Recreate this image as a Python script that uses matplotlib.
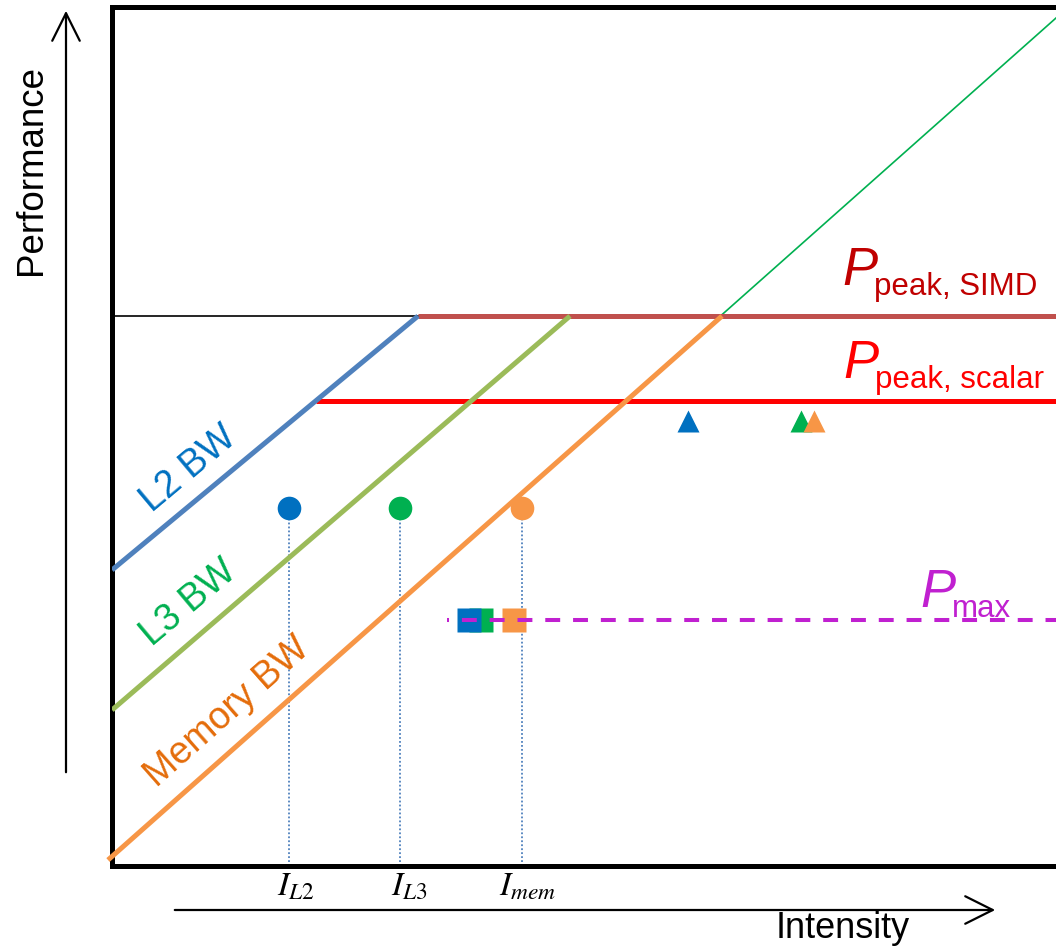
import matplotlib
matplotlib.use("Agg")
import matplotlib.pyplot as plt
from matplotlib.patches import FancyArrowPatch

plt.rcParams['font.family'] = ['Liberation Sans', 'DejaVu Sans']

# roofline model (arbitrary units)
p_simd = 5.50
p_scalar = 4.65
p_max = 2.46

l2_x = [0.0, 3.06]
l2_y = [2.96, 5.50]
l3_x = [0.0, 4.58]
l3_y = [1.56, 5.50]
mem_x = [-0.04, 6.10]
mem_y = [0.06, 5.50]
mem_ext_x = [-0.04, 9.44]
mem_ext_y = [0.06, 8.48]

# intensity markers (circles) and their ticks
i_x = [1.77, 2.88, 4.10]
i_y = [3.58, 3.58, 3.58]
i_labels = ['$I_{L2}$', '$I_{L3}$', '$I_{mem}$']
i_label_x = [1.84, 2.97, 4.16]

# measured performance (triangles) and squares at P_max
tri_x = [5.76, 6.89, 7.02]
tri_y = [4.45, 4.45, 4.45]
sq_x = [3.69, 3.57, 4.02]        # green, blue, orange
sq_y = [2.46, 2.46, 2.46]
pmax_x = [3.35, 9.44]

colors_dot = ['#0070C0', '#00B050', '#F79646']
sq_colors = ['#00B050', '#0070C0', '#F79646']

# roof labels: subscript, colour, x, baseline y
roof_sub = ['peak, SIMD', 'peak, scalar', 'max']
roof_col = ['#C00000', '#FF0000', '#C020D0']
roof_x = [7.30, 7.31, 8.08]
roof_y = [5.81, 4.88, 2.59]

fig = plt.figure(figsize=(10.56, 9.47), dpi=100)
ax = fig.add_axes([112/1056, (947-866)/947, (1056-112)/1056, (866-7.5)/947])
ax.set_xlim(0, 9.44)
ax.set_ylim(0, 8.585)
ax.set_xticks([]); ax.set_yticks([])
for s in ['left', 'top', 'bottom']:
    ax.spines[s].set_linewidth(3.6)
ax.spines['right'].set_visible(False)

# roofs
ax.plot([0, l2_x[1]], [p_simd, p_simd], color='black', lw=1.2, zorder=2)
ax.plot([l2_x[1], 9.44], [p_simd, p_simd], color='#C0504D', lw=3.6, zorder=3, solid_capstyle='butt')
ax.plot([2.04, 9.44], [p_scalar, p_scalar], color='#FF0000', lw=3.6, zorder=3, solid_capstyle='butt')

# bandwidth lines
ax.plot(mem_ext_x, mem_ext_y, color='#00B050', lw=1.2, zorder=2)
ax.plot(l2_x, l2_y, color='#4F81BD', lw=3.6, zorder=4, solid_capstyle='butt')
ax.plot(l3_x, l3_y, color='#9BBB59', lw=3.6, zorder=4, solid_capstyle='butt')
ax.plot(mem_x, mem_y, color='#F79646', lw=3.6, zorder=4, solid_capstyle='butt', clip_on=False)

# dotted drop lines and circles
for x, y, c in zip(i_x, i_y, colors_dot):
    ax.plot([x, x], [0.04, y], color='#4F81BD', lw=1.3, ls=(0, (1, 1.2)), zorder=3)
    ax.plot(x, y, 'o', color=c, ms=17, mec='none', zorder=6)

# triangles
for x, y, c in zip(tri_x, tri_y, colors_dot):
    ax.plot(x, y, '^', color=c, ms=16, mec='none', zorder=6)

# squares + P_max line
for x, y, c in zip(sq_x, sq_y, sq_colors):
    ax.plot(x, y, 's', color=c, ms=17, mec='none', zorder=6)
ax.plot(pmax_x, [p_max, p_max], color='#C020D0', lw=2.9,
        ls=(3.2, (3.7, 3.2)), zorder=7)

# line labels
ax.text(0.77, 3.97, 'L2 BW', color='#0070C0', fontsize=27, rotation=40,
        rotation_mode='anchor', ha='center', va='center')
ax.text(0.77, 2.63, 'L3 BW', color='#00B050', fontsize=27, rotation=40,
        rotation_mode='anchor', ha='center', va='center')
ax.text(1.15, 1.54, 'Memory BW', color='#E46C0A', fontsize=27, rotation=41.5,
        rotation_mode='anchor', ha='center', va='center')

# roof labels: italic P plus plain subscript
for sub, c, x, y in zip(roof_sub, roof_col, roof_x, roof_y):
    ax.text(x, y, 'P', color=c, fontsize=38, style='italic',
            ha='left', va='baseline')
    ax.text(x + 0.315, y - 0.10, sub, color=c, fontsize=22.5,
            ha='left', va='baseline')

# intensity tick labels
for x, lab in zip(i_label_x, i_labels):
    ax.text(x, -0.21, lab, fontsize=24, ha='center', va='center',
            math_fontfamily='stix', clip_on=False)

# axis arrows
fig.add_artist(FancyArrowPatch(
    (66/1056, 1-775/947), (66/1056, 1-8/947), transform=fig.transFigure,
    arrowstyle='->,head_length=0.9,head_width=0.45', mutation_scale=22, lw=1.6, color='black'))
fig.add_artist(FancyArrowPatch(
    (172/1056, 1-910/947), (998/1056, 1-910/947), transform=fig.transFigure,
    arrowstyle='->,head_length=0.9,head_width=0.45', mutation_scale=22, lw=1.6, color='black'))
fig.text(32/1056, 1-170/947, 'Performance', rotation=90, fontsize=26.5,
         ha='center', va='center')
fig.text(843/1056, 1-928/947, 'Intensity', fontsize=26, ha='center', va='center')

fig.savefig('out.png', dpi=100)
